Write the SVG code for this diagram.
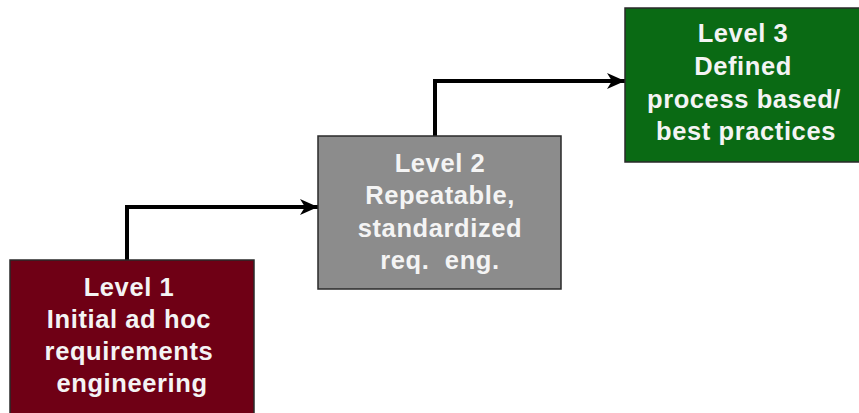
<svg xmlns="http://www.w3.org/2000/svg" width="859" height="413" viewBox="0 0 859 413">
<style>
.box{stroke:#2a2a2a;stroke-width:1.5}
.t{font-family:"Liberation Sans",Arial,sans-serif;font-weight:bold;font-size:25.5px;fill:#f4f4f4;text-anchor:middle;letter-spacing:0.6px}
.conn{fill:none;stroke:#000;stroke-width:4}
</style>
<defs>
<marker id="ah" markerUnits="userSpaceOnUse" markerWidth="20" markerHeight="18" refX="18" refY="9" orient="auto">
<path d="M0,1 L18,9 L0,17 L5,9 Z" fill="#000"/>
</marker>
</defs>
<rect width="859" height="413" fill="#fff"/>
<g id="connectors">
<path class="conn" d="M127,261 V207 H318" marker-end="url(#ah)"/>
<path class="conn" d="M435,137 V81 H625" marker-end="url(#ah)"/>
</g>
<g id="level1">
<rect class="box" x="10" y="260" width="244" height="156" fill="#6f0015"/>
<text class="t" x="129" y="296">Level 1</text>
<text class="t" x="129" y="328">Initial ad hoc</text>
<text class="t" x="129" y="360">requirements</text>
<text class="t" x="132" y="392">engineering</text>
</g>
<g id="level2">
<rect class="box" x="318" y="136" width="243" height="153" fill="#8c8c8c"/>
<text class="t" x="440" y="172">Level 2</text>
<text class="t" x="440" y="204">Repeatable,</text>
<text class="t" x="440" y="237">standardized</text>
<text class="t" x="440" y="269" xml:space="preserve">req.  eng.</text>
</g>
<g id="level3">
<rect class="box" x="625" y="8" width="236" height="154" fill="#0a6a14"/>
<text class="t" x="743" y="42">Level 3</text>
<text class="t" x="743" y="75">Defined</text>
<text class="t" x="744" y="108">process based/</text>
<text class="t" x="746" y="140">best practices</text>
</g>
</svg>
